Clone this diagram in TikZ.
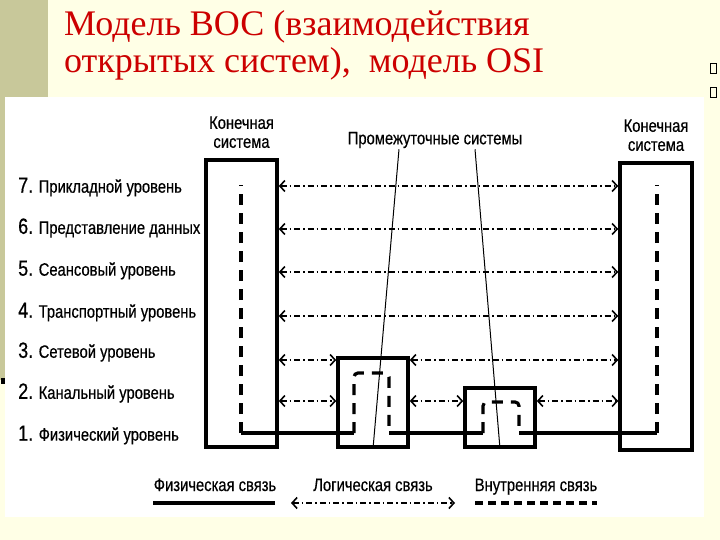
\documentclass[tikz,border=0pt]{standalone}
\usepackage{fontspec}
\setmainfont{Liberation Serif}
\newfontfamily\diagfont[FakeStretch=0.82,FakeBold=0.5]{Liberation Sans}
\usetikzlibrary{positioning}
\usetikzlibrary{arrows.meta}
\definecolor{slidebg}{HTML}{FFFFE6}
\definecolor{slidebar}{HTML}{C8C89A}
\definecolor{titlered}{HTML}{CC0000}
\newcommand\lnum[1]{{\fontsize{22}{22}\selectfont #1}}

\begin{document}
\begin{tikzpicture}[x=1pt,y=-1pt,
sysbox/.style={draw, line width=3.6pt, fill=white, inner sep=0pt},
phys/.style={line width=3.2pt},
inner/.style={line width=3.2pt, dash pattern=on 11pt off 8pt},
logic/.style={line width=1.2pt, dash pattern=on 6pt off 3pt on 1.5pt off 3pt,
  {Straight Barb[length=5pt,width=11pt,line width=1.6pt]}-{Straight Barb[length=5pt,width=11pt,line width=1.6pt]}},
hdr/.style={font=\diagfont\fontsize{18}{19}\selectfont, align=center, inner sep=1pt},
lab/.style={font=\diagfont\fontsize{18}{19}\selectfont, anchor=west, inner sep=0pt},
lgd/.style={font=\diagfont\fontsize{18}{19}\selectfont, anchor=base, inner sep=0pt}
]

% slide background
\fill[slidebg] (0,0) rectangle (720,540);
\fill[slidebar] (0,0) rectangle (48,97);
\fill[slidebar] (0,97) rectangle (5,380);
\fill[black] (1,378) rectangle (5,384);
\fill[white] (5,97) rectangle (704,517);
\draw[line width=0.6pt] (710,63) rectangle (716,73);
\draw[line width=0.6pt] (710,87) rectangle (716,97);

% title
\node[anchor=north west, text=titlered, align=left, inner sep=0pt,
  font=\fontsize{36}{37}\selectfont] (title) at (64,10)
  {Модель ВОС (взаимодействия\\открытых систем),\ \ модель OSI};

% systems
\node[sysbox, minimum width=71pt, minimum height=287pt] (ls) at (241.5,303.5) {};
\node[sysbox, minimum width=72pt, minimum height=287pt] (rs) at (656,306.5) {};
\node[sysbox, minimum width=70pt, minimum height=89pt] (b1) at (373,402.5) {};
\node[sysbox, minimum width=70pt, minimum height=59pt] (b2) at (500,417.5) {};

\node[hdr, above=9pt of ls] (lhdr) {Конечная\\система};
\node[hdr, above=9pt of rs] (rhdr) {Конечная\\система};
\node[hdr] (im) at (435,140) {Промежуточные системы};

% layer rows
\coordinate (r7) at (0,186);
\coordinate (r6) at (0,229);
\coordinate (r5) at (0,272);
\coordinate (r4) at (0,316);
\coordinate (r3) at (0,360);
\coordinate (r2) at (0,401);
\coordinate (r1) at (0,433);

\node[lab] (lab7) at (18,187) {\lnum{7.} Прикладной уровень};
\node[lab] (lab6) at (18,228) {\lnum{6.} Представление данных};
\node[lab] (lab5) at (18,270) {\lnum{5.} Сеансовый уровень};
\node[lab] (lab4) at (18,312) {\lnum{4.} Транспортный уровень};
\node[lab] (lab3) at (18,352) {\lnum{3.} Сетевой уровень};
\node[lab] (lab2) at (18,393) {\lnum{2.} Канальный уровень};
\node[lab] (lab1) at (18,435) {\lnum{1.} Физический уровень};

% logical links
\foreach \r in {r7,r6,r5,r4}
  \draw[logic] (ls.east |- \r) -- (rs.west |- \r);
\draw[logic] (ls.east |- r3) -- (b1.west |- r3);
\draw[logic] (b1.east |- r3) -- (rs.west |- r3);
\draw[logic] (ls.east |- r2) -- (b1.west |- r2);
\draw[logic] (b1.east |- r2) -- (b2.west |- r2);
\draw[logic] (b2.east |- r2) -- (rs.west |- r2);

% physical and internal links
\coordinate (la) at (241,433);
\coordinate (ra) at (657,433);
\coordinate (b1a) at (354,433);
\coordinate (b1b) at (389,433);
\coordinate (b2a) at (483,433);
\coordinate (b2b) at (519,433);
\draw[phys] (la) -- (b1a);
\draw[phys] (b1b) -- (b2a);
\draw[phys] (b2b) -- (ra);
\draw[inner] (la) -- ++(0,-248);
\draw[inner] (ra) -- ++(0,-248);
\draw[inner, rounded corners=4pt] (b1a) -- ++(0,-60) -| (b1b);
\draw[inner, rounded corners=4pt] (b2a) -- ++(0,-31) -| (b2b);

% pointers to intermediate systems
\draw[line width=1pt] ([xshift=-36pt]im.south) -- (b1.south);
\draw[line width=1pt] ([xshift=40pt]im.south) -- (b2.south);

% legend
\node[lgd] (lgphys) at (215,491) {Физическая связь};
\node[lgd] (lglog) at (373,491) {Логическая связь};
\node[lgd] (lgin) at (536,491) {Внутренняя связь};
\coordinate (lp1) at (153,503); \coordinate (lp2) at (275,503);
\coordinate (ll1) at (291,503); \coordinate (ll2) at (455,503);
\coordinate (li1) at (475,503); \coordinate (li2) at (597,503);
\draw[phys] (lp1) -- (lp2);
\draw[logic] (ll1) -- (ll2);
\draw[inner, dash pattern=on 8pt off 5pt] (li1) -- (li2);
\end{tikzpicture}
\end{document}
